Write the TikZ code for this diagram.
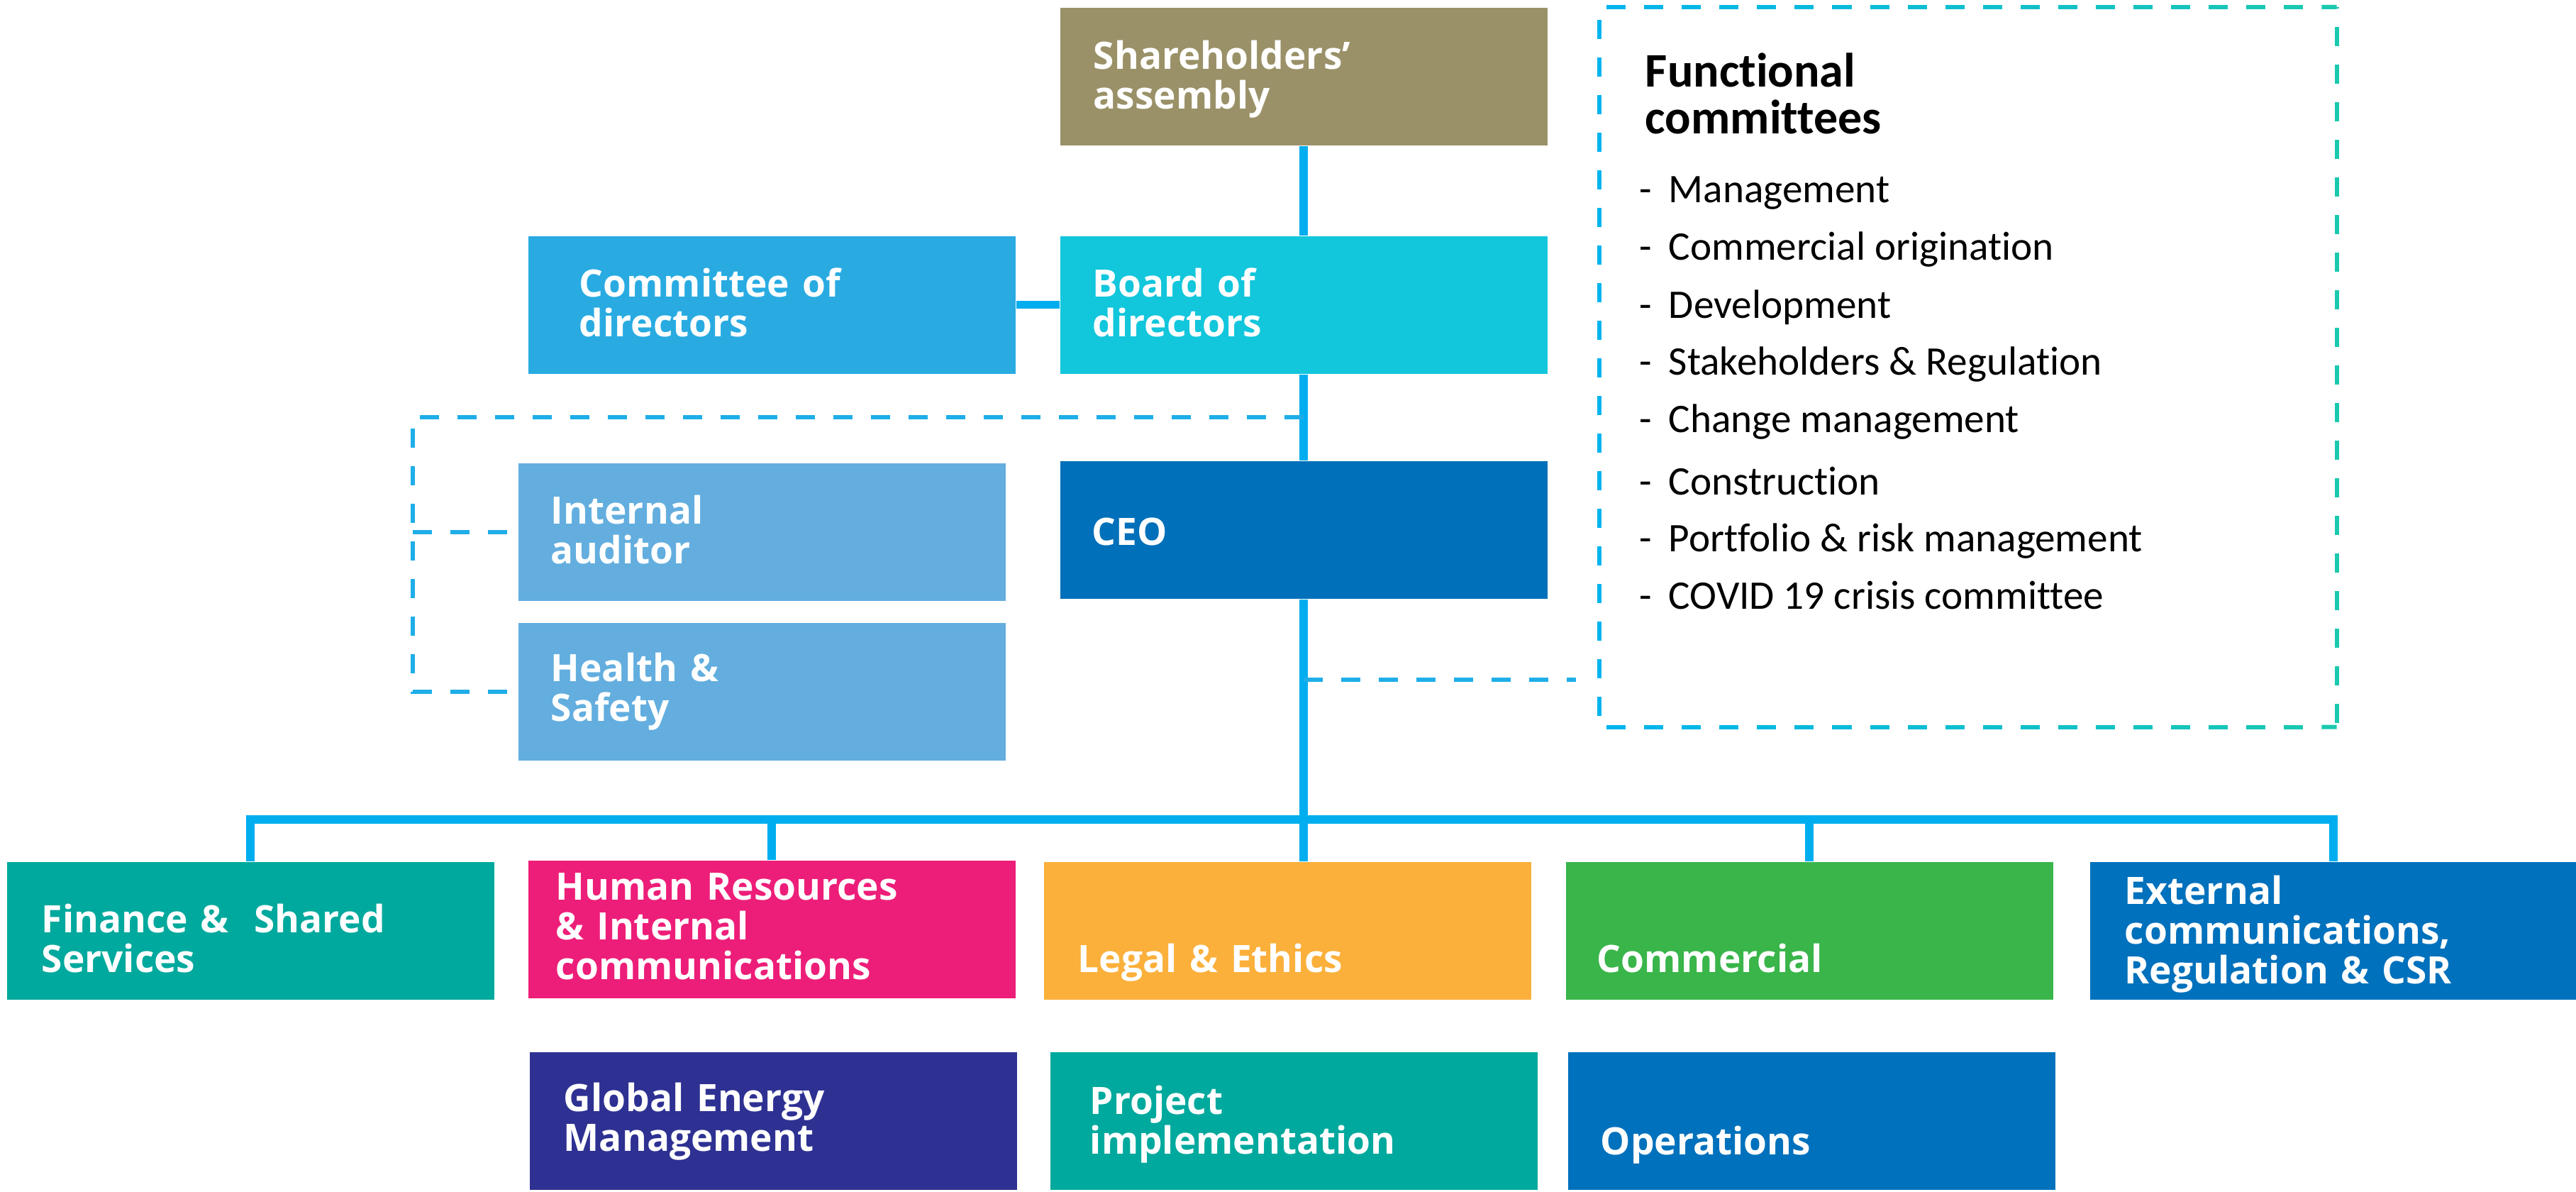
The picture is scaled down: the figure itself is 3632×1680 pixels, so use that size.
\documentclass[tikz,border=0pt]{standalone}
\usepackage{fontspec}
\setmainfont{Open Sans}
\newfontfamily\carlito[Ligatures=NoCommon]{Carlito}
\usetikzlibrary{calc}
\definecolor{cShare}{HTML}{9A9168}
\definecolor{cCommittee}{HTML}{29ABE2}
\definecolor{cBoard}{HTML}{12C6DC}
\definecolor{cCEO}{HTML}{0070BA}
\definecolor{cLight}{HTML}{63AEDF}
\definecolor{cFin}{HTML}{00A99D}
\definecolor{cHR}{HTML}{ED1E79}
\definecolor{cLegal}{HTML}{FBB03B}
\definecolor{cComm}{HTML}{39B54A}
\definecolor{cExt}{HTML}{0071BC}
\definecolor{cGlob}{HTML}{2E3192}
\definecolor{lineblue}{HTML}{00AEEF}
\definecolor{dashblue}{HTML}{1FAEE8}
\definecolor{fblue}{HTML}{00B4EF}
\definecolor{fteal}{HTML}{1BC9AE}
\begin{document}
\begin{tikzpicture}[x=0.25pt,y=-0.25pt,
  box/.style={rectangle, inner sep=0pt, minimum width=171.75pt, minimum height=48.5pt, anchor=north west, draw=none},
  btext/.style={anchor=base west, text width=165pt, align=left, inner sep=0pt, text=white, font=\fontsize{13.3}{14}\selectfont\bfseries},
  itemtext/.style={anchor=base west, inner sep=0pt, font=\carlito\fontsize{14.3}{16}\selectfont},
  mainline/.style={line width=3pt, draw=lineblue},
  dashline/.style={line width=1.5pt, draw=dashblue, dash pattern=on 6.75pt off 6.5pt},
  fdash/.style={line width=1.5pt}
]
\useasboundingbox (0,0) rectangle (3632,1680);

% boxes
\node[box, fill=cShare] (share) at (1494,10) {};
\node[box, fill=cCommittee] (committee) at (744,332) {};
\node[box, fill=cBoard] (board) at (1494,332) {};
\node[box, fill=cCEO] (ceo) at (1494,649) {};
\node[box, fill=cLight] (internal) at (730,652) {};
\node[box, fill=cLight] (health) at (730,877) {};
\node[box, fill=cFin] (fin) at (9,1214) {};
\node[box, fill=cHR] (hr) at (744,1212) {};
\node[box, fill=cLegal] (legal) at (1471,1214) {};
\node[box, fill=cComm] (comm) at (2207,1214) {};
\node[box, fill=cExt] (ext) at (2946,1214) {};
\node[box, fill=cGlob] (glob) at (746,1482) {};
\node[box, fill=cFin] (proj) at (1480,1482) {};
\node[box, fill=cExt] (ops) at (2210,1482) {};

% box texts
\node[btext] (share-t) at (1541,98) {Shareholders’\\assembly};
\node[btext] (committee-t) at (816,418) {Committee of\\directors};
\node[btext] (board-t) at (1540,418) {Board of\\directors};
\node[btext] (ceo-t) at (1539,768) {CEO};
\node[btext] (internal-t) at (776,738) {Internal\\auditor};
\node[btext] (health-t) at (776,960) {Health \&\\Safety};
\node[btext] (fin-t) at (58,1314) {Finance \&\ \ Shared\\Services};
\node[btext] (hr-t) at (783,1268) {Human Resources\\\& Internal\\communications};
\node[btext] (legal-t) at (1519,1370) {Legal \& Ethics};
\node[btext] (comm-t) at (2251,1370) {Commercial};
\node[btext] (ext-t) at (2995,1274) {External\\communications,\\Regulation \& CSR};
\node[btext] (glob-t) at (794,1566) {Global Energy\\Management};
\node[btext] (proj-t) at (1536,1570) {Project\\implementation};
\node[btext] (ops-t) at (2256,1627) {Operations};

% functional committees
\node[rectangle, inner sep=0pt, minimum width=259.5pt, minimum height=253.25pt, anchor=north west] (func) at (2255,10) {};
\foreach \i in {0,...,19}{
  \pgfmathsetmacro\fa{0.0096+\i*0.05106}
  \pgfmathsetmacro\fb{min(\fa+0.026,1)}
  \pgfmathtruncatemacro\fp{100*(\fa+0.013)}
  \draw[fdash, draw=fteal!\fp!fblue] ($(func.north west)!\fa!(func.north east)$) -- ($(func.north west)!\fb!(func.north east)$);
  \draw[fdash, draw=fteal!\fp!fblue] ($(func.south west)!\fa!(func.south east)$) -- ($(func.south west)!\fb!(func.south east)$);
}
\draw[fdash, draw=fblue, dash pattern=on 6.75pt off 6.5pt, dash phase=-4.5pt] (func.north west) -- (func.south west);
\draw[fdash, draw=fteal, dash pattern=on 6.75pt off 6.5pt, dash phase=-7pt] (func.north east) -- (func.south east);

\node[anchor=base west, text width=120pt, align=left, inner sep=0pt, font=\carlito\bfseries\fontsize{17}{16.5}\selectfont] (func-t) at (2319,123) {Functional\\committees};
\foreach \y/\t [count=\k] in {286/Management, 367/Commercial origination, 448/Development, 528/Stakeholders \& Regulation, 609/Change management, 697/Construction, 777/Portfolio \& risk management, 858/COVID 19 crisis committee}{
  \node[itemtext] (dash\k) at (2311,\y) {-};
  \node[itemtext] (item\k) at (2352,\y) {\t};
}

% solid connectors
\draw[mainline] (share.south) -- (board.north);
\draw[mainline] (board.south) -- (ceo.north);
\draw[mainline] (ceo.south) -- (ceo.south |- legal.north);
\draw[line width=2.75pt, draw=lineblue] (committee.east) -- (board.west);
\coordinate (bus) at (0,1155);
\draw[mainline] (fin.north) -- (fin.north |- bus) -- (ext.north |- bus) -- (ext.north);
\draw[mainline] (hr.north) -- (hr.north |- bus);
\draw[mainline] (comm.north) -- (comm.north |- bus);

% dashed connectors
\coordinate (bl) at (582,588);
\draw[dashline] (ceo.north |- bl) -- (bl) |- (health.west);
\draw[dashline] (bl |- internal.west) -- (internal.west);
\coordinate (cf) at (0,958);
\draw[dashline, shorten >=8.25pt] (ceo.south |- cf) -- (func.west |- cf);
\end{tikzpicture}
\end{document}
